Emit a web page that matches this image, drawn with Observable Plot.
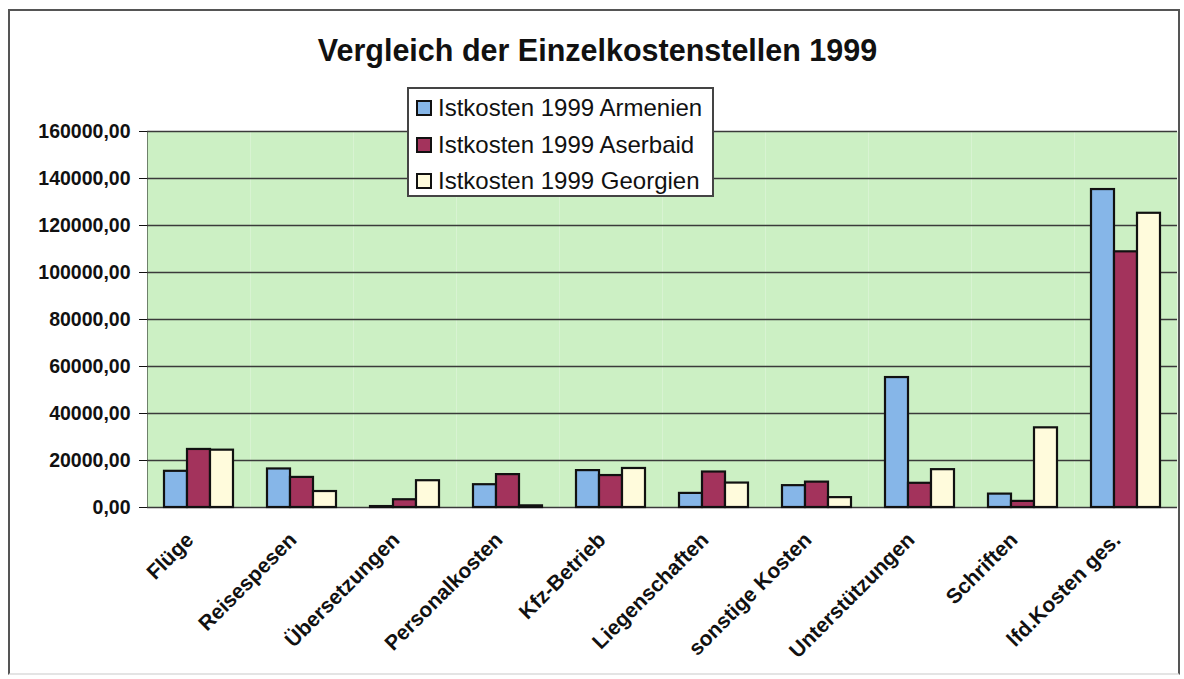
<!DOCTYPE html>
<html>
<head>
<meta charset="utf-8">
<script src="https://cdn.jsdelivr.net/npm/d3@7"></script>
<script src="https://cdn.jsdelivr.net/npm/@observablehq/plot@0.6"></script>
<style>
  html, body { margin: 0; padding: 0; background: #fff; }
  #wrap { position: relative; width: 1184px; height: 679px; overflow: hidden; font-family: "Liberation Sans", Arial, sans-serif; }
  #border { position: absolute; left: 8px; top: 9px; width: 1172px; height: 666px; border: 2px solid #555; border-bottom-color: #e4e4e4; box-sizing: border-box; pointer-events: none; }
  #title { height: 100px; box-sizing: border-box; padding-top: 31px; padding-left: 11px; text-align: center; font-weight: bold; font-size: 30.5px; line-height: 38px; color: #111; }
  #legend { position: absolute; left: 407px; top: 87px; width: 307px; height: 110px; box-sizing: border-box; background: #fff; border: 2px solid #444; padding: 1px 0 0 7px; }
  .row { display: flex; align-items: center; height: 36.5px; font-size: 24px; color: #111; }
  .sw { width: 12px; height: 12px; border: 2.5px solid #111; margin-right: 6px; flex: none; }
  svg { display: block; }
  #chart [aria-label^="fx-axis"] { translate: -9px 0px; }
  #chart [aria-label^="fx-axis"] text { font-size: 21px; }
</style>
</head>
<body>
<div id="wrap">
  <div id="title"></div>
  <div id="chart"></div>
  <div id="legend"></div>
  <div id="border"></div>
</div>
<script>
const titleText = "Vergleich der Einzelkostenstellen 1999";
const categories = ["Flüge", "Reisespesen", "Übersetzungen", "Personalkosten", "Kfz-Betrieb", "Liegenschaften", "sonstige Kosten", "Unterstützungen", "Schriften", "lfd.Kosten ges."];
const seriesNames = ["Istkosten 1999 Armenien", "Istkosten 1999 Aserbaid", "Istkosten 1999 Georgien"];
const armenien = [15400, 16400, 400, 9700, 15700, 6000, 9300, 55300, 5700, 135300];
const aserbaid = [24700, 12800, 3300, 14000, 13600, 15100, 10800, 10300, 2600, 108800];
const georgien = [24400, 6800, 11400, 700, 16600, 10400, 4200, 16100, 33900, 125200];
const colors = ["#86b6e8", "#a3335c", "#fffbdc"];
const yTicks = [0, 20000, 40000, 60000, 80000, 100000, 120000, 140000, 160000];

const seriesValues = [armenien, aserbaid, georgien];
const data = [];
categories.forEach((c, i) => {
  seriesNames.forEach((s, j) => data.push({cat: c, series: s, value: seriesValues[j][i]}));
});

document.getElementById("title").textContent = titleText;

const legend = document.getElementById("legend");
seriesNames.forEach((s, j) => {
  const row = document.createElement("div");
  row.className = "row";
  const sw = document.createElement("span");
  sw.className = "sw";
  sw.style.background = colors[j];
  const t = document.createElement("span");
  t.textContent = s;
  row.appendChild(sw);
  row.appendChild(t);
  legend.appendChild(row);
});

const fmt = d => d.toFixed(2).replace(".", ",");

const chart = Plot.plot({
  width: 1184,
  height: 579,
  marginTop: 31,
  marginBottom: 172,
  marginLeft: 146,
  marginRight: 6,
  style: {fontFamily: "'Liberation Sans', Arial, sans-serif", fontSize: "19.5px", fontWeight: "bold", color: "#111", background: "transparent"},
  fx: {domain: categories, padding: 0, round: true, label: null, tickSize: 0, tickPadding: 29, tickRotate: -45},
  x: {domain: seriesNames, paddingInner: 0, paddingOuter: 0.7, axis: null},
  y: {domain: [0, 160000], ticks: yTicks, tickFormat: fmt, label: null, tickSize: 8, tickPadding: 9, line: true},
  color: {domain: seriesNames, range: colors},
  marks: [
    Plot.frame({fill: "#ccf0c4", stroke: null}),
    Plot.ruleY(yTicks, {stroke: "#3a3a3a", strokeWidth: 1.6}),
    Plot.barY(data, {fx: "cat", x: "series", y: "value", fill: "series", stroke: "#111", strokeWidth: 2.2})
  ]
});
document.getElementById("chart").appendChild(chart);
</script>
</body>
</html>
